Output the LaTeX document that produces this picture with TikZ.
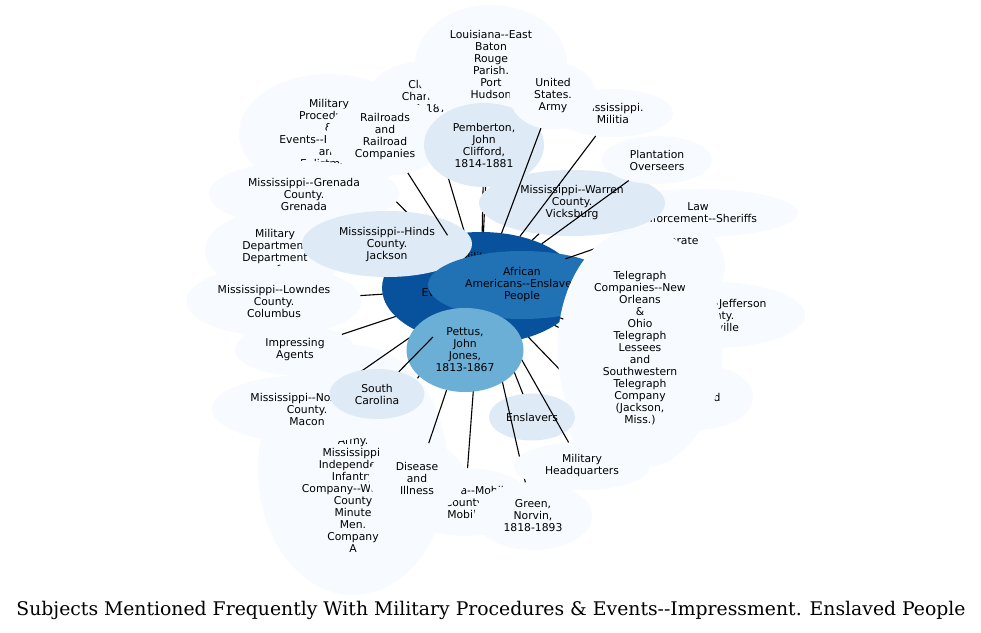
\documentclass[tikz,border=0pt]{standalone}
\usepackage{fontspec}
\newfontfamily\labfont{DejaVu Sans}
\newfontfamily\titlefont{DejaVu Serif}
\usetikzlibrary{shapes.geometric}
\definecolor{cA}{HTML}{F7FBFF}
\definecolor{cB}{HTML}{DEEBF7}
\definecolor{cC}{HTML}{6BAED6}
\definecolor{cD}{HTML}{2171B5}
\definecolor{cE}{HTML}{08519C}
\begin{document}
\begin{tikzpicture}[x=1pt,y=-1pt,
  bub/.style={ellipse, inner sep=0pt, outer sep=0pt, align=center, text=black,
              font=\labfont\fontsize{10.8}{12}\selectfont},
  vl/.style={bub, fill=cA},
  lt/.style={bub, fill=cB},
  link/.style={draw=black, line width=1.1pt},
  sz/.style 2 args={minimum width=#1pt, minimum height=#2pt}]
\fill[white] (0,0) rectangle (981,632);
\useasboundingbox (0,0) rectangle (981,632);
% centre
\node[bub, fill=cE, sz={198}{112}] (main) at (481,288) {Military\\Procedures\\\&\\Events--Impressment.\\Enslaved\\People};
% upper left group
\node[vl, sz={110}{70}] (clark) at (424,96) {Clark,\\Charles,\\1811-1877};
\draw[link] (main) -- (clark);
\node[vl, sz={152}{118}] (lou) at (491,64) {Louisiana--East\\Baton\\Rouge\\Parish.\\Port\\Hudson};
\draw[link] (main) -- (lou);
\node[vl, sz={180}{118}] (mpr) at (329,133) {Military\\Procedures\\\&\\Events--Recruiting\\and\\Enlistment};
\draw[link] (main) -- (mpr);
\node[vl, sz={140}{80}] (md) at (275,251) {Military\\Department\\Department\\of};
\draw[link] (main) -- (md);
\node[vl, sz={190}{66}] (gren) at (304,194) {Mississippi--Grenada\\County.\\Grenada};
\draw[link] (main) -- (gren);
\node[lt, sz={170}{66}] (hinds) at (387,244) {Mississippi--Hinds\\County.\\Jackson};
\node[vl, sz={118}{78}] (rail) at (385,137) {Railroads\\and\\Railroad\\Companies};
\draw[link] (main) -- (rail);
\node[lt, sz={120}{84}] (pemb) at (484,145) {Pemberton,\\John\\Clifford,\\1814-1881};
\draw[link] (main) -- (pemb);
% hidden right group
\node[vl, sz={120}{96}] (conf) at (665,266) {Confederate\\States\\of\\America.\\Army};
\draw[link] (main) -- (conf);
\node[vl, sz={182}{66}] (kent) at (714,315) {Kentucky--Jefferson\\County.\\Louisville};
\draw[link] (main) -- (kent);
\node[vl, sz={114}{66}] (dnode) at (696,397) {Fugitive\\Enslaved\\Men};
\draw[link] (main) -- (dnode);
\node[vl, sz={100}{50}] (hid) at (620,432) {};
\draw[link] (main) -- (hid);
\node[bub, fill=cD, sz={188}{68}] (aa) at (522,285) {African\\Americans--Enslaved\\People};
\node[vl, sz={200}{48}] (law) at (698,213) {Law\\Enforcement--Sheriffs};
\draw[link] (main) -- (law);
\node[lt, sz={186}{66}] (warren) at (572,203) {Mississippi--Warren\\County.\\Vicksburg};
\draw[link] (main) -- (warren);
\node[vl, sz={120}{48}] (mil) at (613,113) {Mississippi.\\Militia};
\draw[link] (main) -- (mil);
\node[vl, sz={87}{67}] (army) at (553,96) {United\\States.\\Army};
\draw[link] (main) -- (army);
\node[vl, sz={110}{48}] (plant) at (657,160) {Plantation\\Overseers};
\draw[link] (main) -- (plant);
\node[vl, sz={165}{240}] (tel) at (640,348) {Telegraph\\Companies--New\\Orleans\\\&\\Ohio\\Telegraph\\Lessees\\and\\Southwestern\\Telegraph\\Company\\(Jackson,\\Miss.)};
\draw[link] (main) -- (tel);
% lower left group
\node[vl, sz={190}{250}] (mii) at (353,470) {Confederate\\States\\of\\America.\\Army.\\Mississippi.\\Independent\\Infantry\\Company--Winston\\County\\Minute\\Men.\\Company\\A};
\draw[link] (main) -- (mii);
\node[vl, sz={175}{70}] (lown) at (274,301) {Mississippi--Lowndes\\County.\\Columbus};
\draw[link] (main) -- (lown);
\node[vl, sz={120}{50}] (imp) at (295,350) {Impressing\\Agents};
\draw[link] (main) -- (imp);
\node[vl, sz={190}{68}] (nox) at (307,409) {Mississippi--Noxubee\\County.\\Macon};
\draw[link] (main) -- (nox);
% lower right group
\node[vl, sz={136}{68}] (ala) at (465,502) {Alabama--Mobile\\County.\\Mobile};
\draw[link] (main) -- (ala);
\node[vl, sz={96}{72}] (dis) at (417,478) {Disease\\and\\Illness};
\draw[link] (main) -- (dis);
\node[lt, sz={86}{47}] (ensl) at (532,417) {Enslavers};
\draw[link] (main) -- (ensl);
\node[vl, sz={118}{68}] (green) at (533,516) {Green,\\Norvin,\\1818-1893};
\draw[link] (main) -- (green);
\node[vl, sz={136}{48}] (hq) at (582,466) {Military\\Headquarters};
\draw[link] (main) -- (hq);
\node[bub, fill=cC, sz={117}{84}] (pettus) at (465,350) {Pettus,\\John\\Jones,\\1813-1867};
\node[lt, sz={95}{50}] (sc) at (377,394) {South\\Carolina};
\draw[link] (main) -- (sc);
% title
\node[font=\titlefont\fontsize{18.8}{22}\selectfont] (title) at (491,610) {Subjects Mentioned Frequently With Military Procedures \& Events--Impressment. Enslaved People};
\end{tikzpicture}
\end{document}
